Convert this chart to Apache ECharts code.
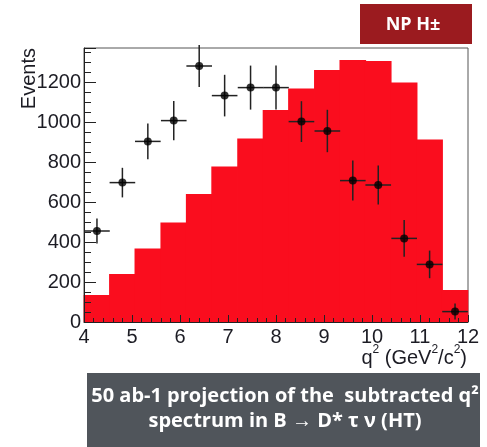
<!DOCTYPE html>
<html>
<head>
<meta charset="utf-8">
<script src="https://cdn.jsdelivr.net/npm/echarts@6/dist/echarts.min.js"></script>
<style>
  html, body { margin: 0; padding: 0; background: #fff; }
  #main { width: 487px; height: 447px; }
</style>
</head>
<body>
<div id="main"></div>
<script>
// bin centres of q^2 (GeV^2/c^2), 15 bins from 4 to 12
var binCenters = [4.27, 4.8, 5.33, 5.87, 6.4, 6.93, 7.47, 8.0, 8.53, 9.07, 9.6, 10.13, 10.67, 11.2, 11.73];
var binHalf = 0.267;

// NP H+- expectation (red histogram)
var npHeights = [135, 240, 367, 497, 640, 777, 918, 1060, 1168, 1260, 1310, 1305, 1198, 913, 160];

// subtracted data points and errors
var dataY = [455, 697, 903, 1007, 1280, 1132, 1172, 1172, 1002, 955, 707, 685, 418, 288, 52];
var dataErr = [62, 74, 89, 98, 105, 104, 110, 110, 102, 106, 100, 98, 92, 69, 40];

var chart = echarts.init(document.getElementById('main'));

var histData = [];
for (var i = 0; i < binCenters.length; i++) {
  histData.push([binCenters[i], npHeights[i]]);
}
var pointData = [];
for (var j = 0; j < binCenters.length; j++) {
  pointData.push([binCenters[j], dataY[j], dataErr[j]]);
}

var labelColor = '#1c1c24';

option = {
  animation: false,
  grid: {
    left: 84,
    top: 48,
    right: 19,
    bottom: 125,
    show: true,
    borderColor: '#555',
    borderWidth: 1
  },
  xAxis: {
    type: 'value',
    min: 4,
    max: 12,
    interval: 1,
    z: 5,
    axisLine: { show: true, lineStyle: { color: '#222', width: 1 } },
    axisTick: { show: true, inside: true, length: 7, lineStyle: { color: '#222' } },
    minorTick: { show: true, splitNumber: 5, length: 4, lineStyle: { color: '#222' } },
    splitLine: { show: false },
    axisLabel: { fontFamily: 'Liberation Sans', fontSize: 20, color: labelColor, margin: 5 }
  },
  yAxis: {
    type: 'value',
    min: 0,
    max: 1370,
    interval: 200,
    z: 5,
    axisLine: { show: true, lineStyle: { color: '#222', width: 1 } },
    axisTick: { show: true, inside: true, length: 12, lineStyle: { color: '#222' } },
    minorTick: { show: true, splitNumber: 4, length: 7, lineStyle: { color: '#222' } },
    splitLine: { show: false },
    axisLabel: {
      fontFamily: 'Liberation Sans', fontSize: 20, color: labelColor, margin: 3, showMaxLabel: false,
      formatter: function (v) { return String(v); }
    }
  },
  series: [
    {
      type: 'custom',
      name: 'NP H±',
      data: histData,
      z: 1,
      renderItem: function (params, api) {
        var x = api.value(0), h = api.value(1);
        var p0 = api.coord([x - binHalf, h]);
        var p1 = api.coord([x + binHalf, 0]);
        return {
          type: 'rect',
          shape: { x: p0[0] - 0.5, y: p0[1], width: p1[0] - p0[0] + 1, height: p1[1] - p0[1] },
          style: { fill: '#fa0d1e' }
        };
      }
    },
    {
      type: 'custom',
      name: 'errors',
      data: pointData,
      z: 3,
      renderItem: function (params, api) {
        var x = api.value(0), y = api.value(1), e = api.value(2);
        var top = api.coord([x, y + e]);
        var bot = api.coord([x, y - e]);
        var l = api.coord([x - binHalf, y]);
        var r = api.coord([x + binHalf, y]);
        var st = { stroke: '#222', lineWidth: 1.5 };
        return {
          type: 'group',
          children: [
            { type: 'line', shape: { x1: top[0], y1: top[1], x2: bot[0], y2: bot[1] }, style: st },
            { type: 'line', shape: { x1: l[0], y1: l[1], x2: r[0], y2: r[1] }, style: st }
          ]
        };
      }
    },
    {
      type: 'scatter',
      data: pointData,
      symbolSize: 8,
      z: 4,
      itemStyle: { color: '#000' }
    }
  ],
  graphic: [
    {
      type: 'text',
      x: 29,
      y: 48,
      rotation: Math.PI / 2,
      style: {
        text: 'Events',
        fontFamily: 'Liberation Sans',
        fontSize: 20,
        fill: labelColor,
        align: 'right',
        verticalAlign: 'middle'
      }
    },
    {
      type: 'text',
      x: 467,
      y: 356,
      style: {
        text: '{n|q}{s|2}{n| (GeV}{s|2}{n|/c}{s|2}{n|)}',
        align: 'right',
        verticalAlign: 'middle',
        rich: {
          n: { fontFamily: 'Liberation Sans', fontSize: 20, fill: labelColor, verticalAlign: 'bottom', lineHeight: 24 },
          s: { fontFamily: 'Liberation Sans', fontSize: 12, fill: labelColor, verticalAlign: 'top', lineHeight: 24 }
        }
      }
    },
    {
      type: 'rect',
      shape: { x: 360, y: 4, width: 112, height: 40 },
      style: { fill: '#9b1b1f' }
    },
    {
      type: 'text',
      x: 413,
      y: 25,
      style: {
        text: 'NP H±',
        fontFamily: 'Open Sans',
        fontWeight: 'bold',
        fontSize: 18,
        fill: '#fff',
        align: 'center',
        verticalAlign: 'middle'
      }
    },
    {
      type: 'rect',
      shape: { x: 87, y: 373, width: 393, height: 80 },
      style: { fill: '#50555b' }
    },
    {
      type: 'text',
      x: 285,
      y: 396,
      style: {
        text: '50 ab-1 projection of the  subtracted q²',
        fontFamily: 'Open Sans',
        fontWeight: 'bold',
        fontSize: 20,
        fill: '#fff',
        align: 'center',
        verticalAlign: 'middle'
      }
    },
    {
      type: 'text',
      x: 285,
      y: 421,
      style: {
        text: 'spectrum in B → D* τ ν (HT)',
        fontFamily: 'Open Sans',
        fontWeight: 'bold',
        fontSize: 20,
        fill: '#fff',
        align: 'center',
        verticalAlign: 'middle'
      }
    }
  ]
};

chart.setOption(option);
</script>
</body>
</html>
